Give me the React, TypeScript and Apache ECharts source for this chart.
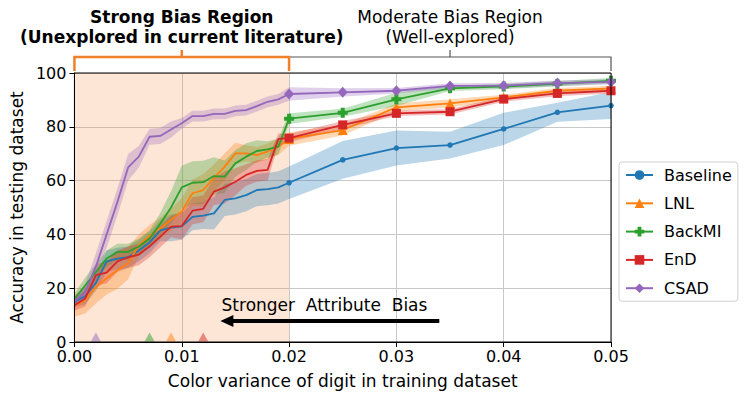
import React, { useEffect, useRef } from 'react';
import * as echarts from 'echarts';

// ---- data ----
const X_VALUES = [
  0, 0.001, 0.002, 0.003, 0.004, 0.005, 0.006, 0.007, 0.008, 0.009, 0.01,
  0.011, 0.012, 0.013, 0.014, 0.015, 0.016, 0.017, 0.018, 0.019, 0.02,
  0.025, 0.03, 0.035, 0.04, 0.045, 0.05,
];

const BASELINE = [15, 17, 22, 30, 31, 31.5, 34, 37, 41.5, 42.5, 43, 46.5, 47, 47.8, 52.8, 53.4, 54.6, 56.5, 56.8, 57.5, 59.2, 67.7, 72.1, 73.2, 79.2, 85.4, 87.9];
const BASELINE_SPREAD = [2, 3, 3, 4, 4, 4, 4, 4, 4, 5, 5, 5, 5, 6, 6, 6, 6, 6, 6, 6, 6, 7, 6.5, 5, 6, 3.5, 5];

const LNL = [13.4, 15.6, 20.3, 23.7, 26.7, 29.3, 36, 39.5, 42.3, 45.4, 48.5, 55.3, 56.5, 61, 65.2, 70.1, 70.1, 69.5, 70.8, 72.6, 75.5, 78.8, 87.2, 88.7, 90.9, 93.4, 94.3];
const LNL_SPREAD = [4, 5, 6, 6, 7, 6, 4, 4, 4, 4, 5, 5, 6, 5, 5, 4, 3, 3, 3, 3, 2.5, 2, 1.5, 1.5, 1, 1, 1];

const BACKMI = [16, 21, 26, 31, 33.5, 33.5, 35.5, 38.5, 44, 50, 57.5, 59.2, 59.4, 61.7, 61.5, 66.4, 68.9, 71, 71.6, 72.6, 83, 85.2, 90.2, 94.3, 95, 96, 97.1];
const BACKMI_SPREAD = [2, 3, 3, 3, 3, 3, 3, 3, 4, 6, 8, 8, 8, 7, 6, 5, 5, 4, 3, 3, 2, 1.5, 2.5, 1, 1, 1, 1];

const END = [13.7, 16.2, 24.9, 25.8, 30, 31.5, 32.5, 35.5, 39.2, 42.9, 43.1, 48.8, 49.5, 55.9, 57.5, 59.6, 62.1, 63.6, 64, 75.5, 75.8, 80.7, 85, 85.6, 90.3, 92.4, 93.4];
const END_SPREAD = [2, 3, 4, 4, 4, 4, 4, 4, 4, 4, 5, 5, 5, 5, 6, 5, 4, 4, 4, 2, 1.5, 1.5, 1, 1, 1, 1, 1];

const CSAD = [15, 18.5, 28, 40, 52, 64.9, 68.9, 76.3, 76.6, 79, 81.3, 84, 84, 84.8, 84.8, 85.9, 86.2, 87.7, 89.3, 90.2, 92.2, 92.8, 93.4, 95.2, 95.3, 96.2, 96.7];
const CSAD_SPREAD = [2, 3, 5, 5, 5, 5, 4, 3, 3, 3, 2, 2, 2, 2, 2, 2, 2, 2, 2, 2, 2.5, 1.5, 1, 1, 1, 1, 1];

const METHODS = ['Baseline', 'LNL', 'BackMI', 'EnD', 'CSAD'];
const METHOD_VALUES = [BASELINE, LNL, BACKMI, END, CSAD];
const METHOD_SPREADS = [BASELINE_SPREAD, LNL_SPREAD, BACKMI_SPREAD, END_SPREAD, CSAD_SPREAD];

// points where each method breaks down (triangles on the x axis)
const FAIL_METHODS = ['CSAD', 'BackMI', 'LNL', 'EnD'];
const FAIL_X = [0.002, 0.007, 0.009, 0.012];

const STRONG_REGION = [0, 0.02];
const MODERATE_REGION = [0.02, 0.05];
const MARKERS_FROM_X = 0.02;

const ARROW_FROM_X = 0.034;
const ARROW_TO_X = 0.0136;
const ARROW_Y = 7.8;
const ARROW_LABEL = 'Stronger  Attribute  Bias';
const ARROW_LABEL_POS = [0.0233, 13.7];

const X_TICK_STEP = 0.01;
const Y_TICK_STEP = 20;

// ---- style ----
const COLORS = ['#1f77b4', '#ff7f0e', '#2ca02c', '#d62728', '#9467bd'];
const PLUS_PATH = 'path://M3,0H7V3H10V7H7V10H3V7H0V3H3Z';
const SYMBOLS = ['circle', 'triangle', PLUS_PATH, 'rect', 'diamond'];
const SYMBOL_SIZES: any[] = [5.5, 10, 10, 9, [10, 11]];
const FONT = 'DejaVu Sans';

export default function App() {
  const ref = useRef<HTMLDivElement>(null);

  useEffect(() => {
    const chart = echarts.init(ref.current!, null, { renderer: 'svg' });

    const series: any[] = [];

    // shaded strong-bias region
    series.push({
      type: 'custom',
      name: 'strong-region',
      z: 0,
      silent: true,
      data: [[STRONG_REGION[0], 0]],
      renderItem: (params: any, api: any) => {
        const p0 = api.coord([STRONG_REGION[0], 100]);
        const p1 = api.coord([STRONG_REGION[1], 0]);
        return {
          type: 'rect',
          shape: { x: p0[0], y: p0[1], width: p1[0] - p0[0], height: p1[1] - p0[1] },
          style: { fill: 'rgba(245,140,70,0.22)' },
        };
      },
    });

    // bands
    METHODS.forEach((m, k) => {
      const vals = METHOD_VALUES[k];
      const spr = METHOD_SPREADS[k];
      series.push({
        type: 'custom',
        name: m + ' band',
        z: 1,
        silent: true,
        data: X_VALUES.map((x, i) => [x, vals[i]]),
        renderItem: (params: any, api: any) => {
          if (params.dataIndex !== 0) return null;
          const pts: number[][] = [];
          for (let i = 0; i < X_VALUES.length; i++) pts.push(api.coord([X_VALUES[i], vals[i] + spr[i]]));
          for (let i = X_VALUES.length - 1; i >= 0; i--) pts.push(api.coord([X_VALUES[i], vals[i] - spr[i]]));
          return {
            type: 'polygon',
            shape: { points: pts },
            style: { fill: COLORS[k], opacity: 0.3 },
          };
        },
      });
    });

    // lines
    METHODS.forEach((m, k) => {
      const vals = METHOD_VALUES[k];
      series.push({
        type: 'line',
        name: m,
        z: 3 + k,
        color: COLORS[k],
        symbol: SYMBOLS[k],
        symbolSize: SYMBOL_SIZES[k],
        showAllSymbol: true,
        lineStyle: { width: 1.8, color: COLORS[k] },
        itemStyle: { color: COLORS[k] },
        data: X_VALUES.map((x, i) =>
          x >= MARKERS_FROM_X - 1e-9 ? { value: [x, vals[i]] } : { value: [x, vals[i]], symbol: 'none' }
        ),
      });
    });

    // failure triangles
    series.push({
      type: 'scatter',
      name: 'fail',
      z: 8,
      symbol: 'triangle',
      symbolSize: [10, 9],
      symbolOffset: [0, -5],
      data: FAIL_X.map((x, i) => ({
        value: [x, 0],
        itemStyle: { color: COLORS[METHODS.indexOf(FAIL_METHODS[i])], opacity: 0.5 },
      })),
    });

    chart.setOption({
      animation: false,
      textStyle: { fontFamily: FONT },
      grid: { left: 72, top: 73, width: 539, height: 269, containLabel: false },
      legend: {
        data: METHODS,
        orient: 'vertical',
        left: 619,
        top: 162,
        padding: [5, 6, 5, 6],
        itemWidth: 27,
        itemHeight: 12,
        itemGap: 12.3,
        borderColor: '#d0d0d0',
        borderWidth: 1,
        borderRadius: 3,
        backgroundColor: '#fff',
        textStyle: { fontFamily: FONT, fontSize: 16, color: '#000', padding: [0, 0, 0, 6] },
      },
      xAxis: {
        type: 'value',
        min: STRONG_REGION[0],
        max: MODERATE_REGION[1],
        interval: X_TICK_STEP,
        name: 'Color variance of digit in training dataset',
        nameLocation: 'middle',
        nameGap: 30,
        nameTextStyle: { fontFamily: FONT, fontSize: 17, color: '#000' },
        axisLine: { lineStyle: { color: '#000', width: 1 } },
        axisTick: { show: true, length: 5, lineStyle: { color: '#000' } },
        axisLabel: {
          fontFamily: FONT,
          fontSize: 16,
          lineHeight: 12,
          color: '#000',
          margin: 8,
          formatter: (v: number) => v.toFixed(2),
        },
        splitLine: { show: true, lineStyle: { color: '#c8c8c8', width: 1 } },
      },
      yAxis: {
        type: 'value',
        min: 0,
        max: 100,
        interval: Y_TICK_STEP,
        name: 'Accuracy in testing dataset',
        nameLocation: 'middle',
        nameGap: 44,
        nameTextStyle: { fontFamily: FONT, fontSize: 17, color: '#000' },
        axisLine: { show: true, lineStyle: { color: '#000', width: 1 } },
        axisTick: { show: true, length: 5, lineStyle: { color: '#000' } },
        axisLabel: { fontFamily: FONT, fontSize: 16, lineHeight: 12, color: '#000', margin: 8 },
        splitLine: { show: true, lineStyle: { color: '#c8c8c8', width: 1 } },
      },
      series,
    });

    const toPx = (x: number, y: number) => chart.convertToPixel({ gridIndex: 0 }, [x, y]) as number[];
    const [xa, yt] = toPx(STRONG_REGION[0], 100);
    const [xb] = toPx(STRONG_REGION[1], 100);
    const [xc, yb] = toPx(MODERATE_REGION[1], 0);
    const brY = yt - 16;
    const brEnd = yt - 2;
    const brTop = yt - 23;
    const midS = (xa + xb) / 2;
    const midM = (xb + xc) / 2;
    const [ax1, ay] = toPx(ARROW_FROM_X, ARROW_Y);
    const [ax2] = toPx(ARROW_TO_X, ARROW_Y);
    const [lx, ly] = toPx(ARROW_LABEL_POS[0], ARROW_LABEL_POS[1]);

    const orange = '#f0802a';
    const grey = '#555';

    chart.setOption({
      graphic: [
        {
          type: 'rect',
          z: 100,
          silent: true,
          shape: { x: xa, y: yt, width: xc - xa, height: yb - yt },
          style: { fill: 'none', stroke: '#000', lineWidth: 1 },
        },
        {
          type: 'polyline',
          z: 100,
          shape: { points: [[xa, brEnd], [xa, brY], [xb, brY], [xb, brEnd]] },
          style: { stroke: orange, lineWidth: 2.5, fill: 'none' },
        },
        {
          type: 'line',
          z: 100,
          shape: { x1: midS, y1: brY, x2: midS, y2: brTop },
          style: { stroke: orange, lineWidth: 2.5 },
        },
        {
          type: 'polyline',
          z: 99,
          shape: { points: [[xb, brEnd], [xb, brY], [xc, brY], [xc, brEnd]] },
          style: { stroke: grey, lineWidth: 1.2, fill: 'none' },
        },
        {
          type: 'line',
          z: 99,
          shape: { x1: midM, y1: brY, x2: midM, y2: brTop },
          style: { stroke: grey, lineWidth: 1.2 },
        },
        {
          type: 'text',
          z: 100,
          x: midS,
          y: yt - 56,
          style: {
            text: 'Strong Bias Region',
            fontFamily: FONT, fontSize: 17, fontWeight: 'bold', fill: '#000',
            align: 'center', verticalAlign: 'middle',
          },
        },
        {
          type: 'text',
          z: 100,
          x: midS,
          y: yt - 36,
          style: {
            text: '(Unexplored in current literature)',
            fontFamily: FONT, fontSize: 17, fontWeight: 'bold', fill: '#000',
            align: 'center', verticalAlign: 'middle',
          },
        },
        {
          type: 'text',
          z: 100,
          x: midM,
          y: yt - 56,
          style: {
            text: 'Moderate Bias Region',
            fontFamily: FONT, fontSize: 17, fill: '#000',
            align: 'center', verticalAlign: 'middle',
          },
        },
        {
          type: 'text',
          z: 100,
          x: midM,
          y: yt - 36,
          style: {
            text: '(Well-explored)',
            fontFamily: FONT, fontSize: 17, fill: '#000',
            align: 'center', verticalAlign: 'middle',
          },
        },
        {
          type: 'line',
          z: 100,
          shape: { x1: ax1, y1: ay, x2: ax2 + 10, y2: ay },
          style: { stroke: '#000', lineWidth: 4 },
        },
        {
          type: 'polygon',
          z: 100,
          shape: { points: [[ax2, ay], [ax2 + 13, ay - 6], [ax2 + 13, ay + 6]] },
          style: { fill: '#000' },
        },
        {
          type: 'text',
          z: 100,
          x: lx,
          y: ly,
          style: {
            text: ARROW_LABEL,
            fontFamily: FONT, fontSize: 17, fill: '#000',
            align: 'center', verticalAlign: 'middle',
          },
        },
      ],
    });

    return () => chart.dispose();
  }, []);

  return (
    <div
      ref={ref}
      style={{ position: 'fixed', left: 0, top: 0, width: 747, height: 399, background: '#fff' }}
    />
  );
}
